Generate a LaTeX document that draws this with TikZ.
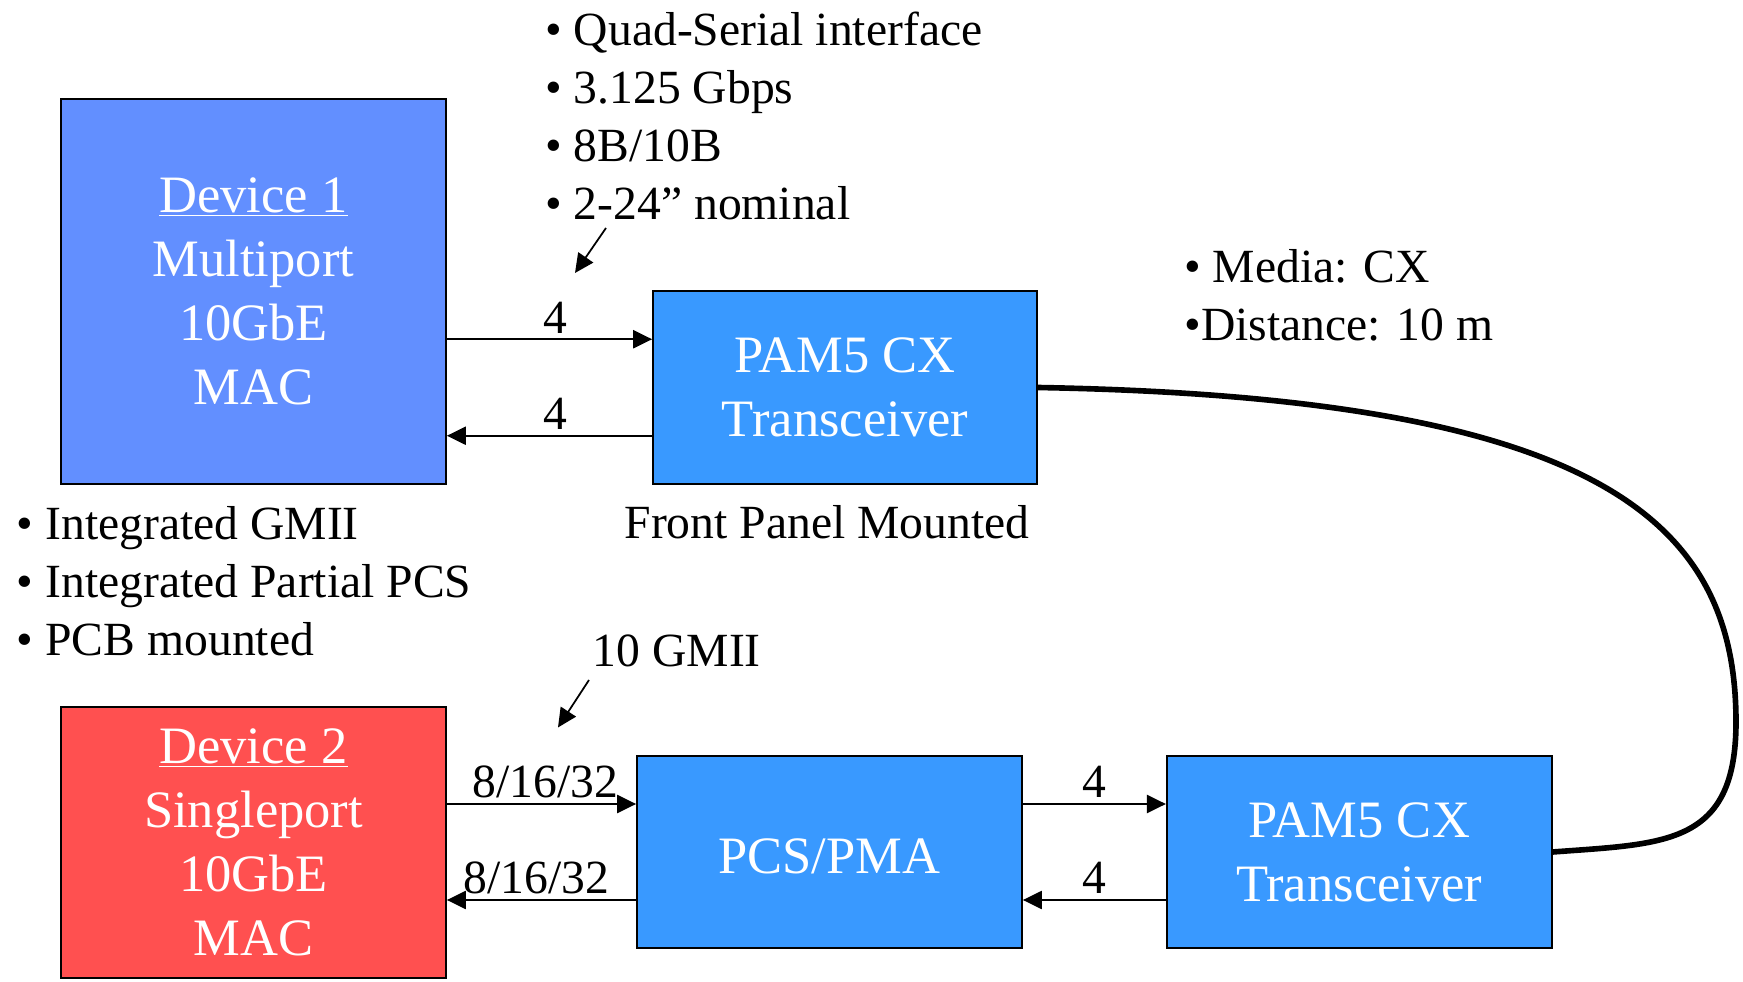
\documentclass[tikz,border=0pt]{standalone}
\usepackage{fontspec}
\setmainfont{Liberation Serif}
\usetikzlibrary{arrows.meta,positioning}
\definecolor{devblue}{HTML}{628FFF}
\definecolor{boxblue}{HTML}{3999FF}
\definecolor{devred}{HTML}{FF5050}
\newcommand{\boxfont}{\fontsize{29.9}{36.4}\selectfont}
\newcommand{\notefont}{\fontsize{27.1}{32.9}\selectfont}

\begin{document}
\begin{tikzpicture}[x=1cm,y=1cm,>={Triangle[length=.38cm,width=.36cm]},
  blk/.style={draw=black,line width=1pt,inner sep=0pt,text=white,align=center,font=\boxfont,
    execute at begin node={\rule{0pt}{.88cm}}},
  note/.style={inner sep=0pt,align=left,font=\notefont},
  sig/.style={->,line width=1.3pt}]
\useasboundingbox (0,0) rectangle (34.86,19.62);
% blocks
\node[blk,fill=devblue,minimum width=7.7cm,minimum height=7.7cm] (dev1) at (5.07,13.79)
  {\underline{Device 1}\\Multiport\\10GbE\\MAC};
\node[blk,fill=devred,minimum width=7.7cm,minimum height=5.42cm] (dev2) at (5.07,2.77)
  {\underline{Device 2}\\Singleport\\10GbE\\MAC};
\node[blk,fill=boxblue,minimum width=7.68cm,minimum height=3.86cm] (pam1) at (16.90,11.87)
  {PAM5 CX\\Transceiver};
\node[blk,fill=boxblue,minimum width=7.7cm,minimum height=3.84cm] (pcs) at (16.59,2.58)
  {PCS/PMA};
\node[blk,fill=boxblue,minimum width=7.7cm,minimum height=3.84cm,right=2.86cm of pcs] (pam2)
  {PAM5 CX\\Transceiver};
% notes
\node[note,anchor=north west] (serial) at (10.90,19.38)
  {• Quad-Serial interface\\• 3.125 Gbps\\• 8B/10B\\• 2-24” nominal};
\node[note,anchor=north west] (media) at (23.68,14.63) {• Media: CX\\•Distance: 10 m};
\node[note,anchor=north west] (macnote) at (0.33,9.50)
  {• Integrated GMII\\• Integrated Partial PCS\\• PCB mounted};
\node[note,anchor=base] (front) at (16.54,8.85) {Front Panel Mounted};
\node[note,anchor=base west] (gmii) at (11.85,6.29) {10 GMII};
% signal lines
\path ([yshift=.965cm]pam1.west) coordinate (p1a) ([yshift=-.965cm]pam1.west) coordinate (p1b);
\path ([yshift=.96cm]pcs.west) coordinate (pca) ([yshift=-.96cm]pcs.west) coordinate (pcb);
\draw[sig] (dev1.east |- p1a) -- node[note,midway,above=.1cm,xshift=.12cm]{4} (p1a);
\draw[sig] (p1b) -- node[note,midway,above=.1cm,xshift=.12cm]{4} (dev1.east |- p1b);
\draw[sig] (dev2.east |- pca) -- node[note,midway,above=.1cm,xshift=.08cm]{8/16/32} (pca);
\draw[sig] (pcb) -- node[note,midway,above=.1cm,xshift=-.1cm]{8/16/32} (dev2.east |- pcb);
\draw[sig] (pcs.east |- pca) -- node[note,midway,above=.1cm]{4} (pam2.west |- pca);
\draw[sig] (pam2.west |- pcb) -- node[note,midway,above=.1cm]{4} (pcs.east |- pcb);
% pointers
\coordinate (s0) at (12.12,15.06);
\coordinate (s1) at (11.50,14.16);
\coordinate (g0) at (11.78,6.02);
\coordinate (g1) at (11.16,5.07);
\draw[->,line width=1pt] (s0) -- (s1);
\draw[->,line width=1pt] (g0) -- (g1);
% cable
\coordinate (bend) at (34.72,5.18);
\draw[line width=3.2pt] (pam1.east) .. controls (32.0,11.67) and (34.72,9.2) .. (bend)
  .. controls (34.72,2.7) and (33.3,2.75) .. (pam2.east);
\end{tikzpicture}
\end{document}
